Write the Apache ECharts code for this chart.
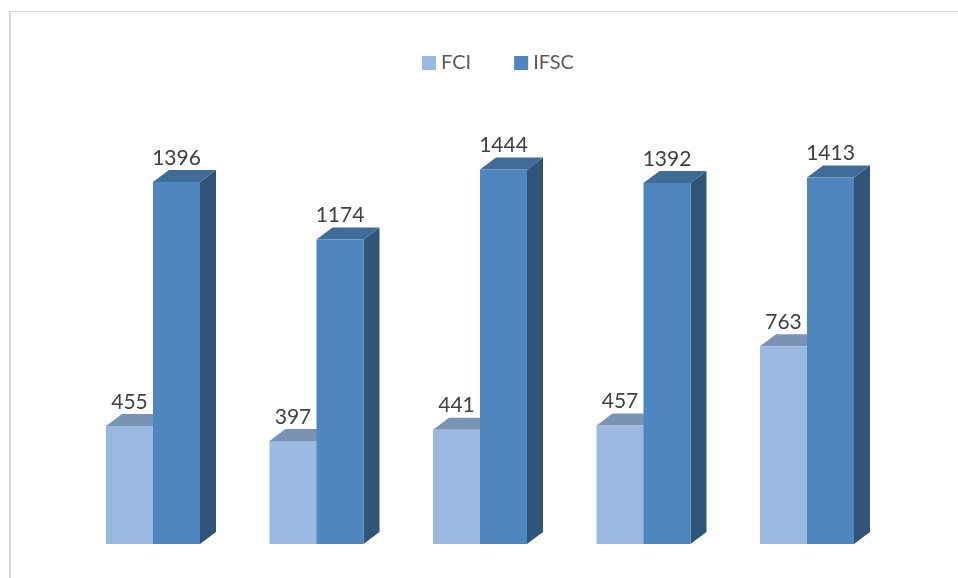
<!DOCTYPE html>
<html>
<head>
<meta charset="utf-8">
<style>
    html, body { margin: 0; padding: 0; background: #fff; }
    #chart { width: 958px; height: 578px; }
</style>
<script src="https://cdn.jsdelivr.net/npm/echarts@6/dist/echarts.min.js"></script>
</head>
<body>
<div id="chart"></div>
<script>
// the source has no category labels, so these are just positions
const categories = ["1", "2", "3", "4", "5"];
const fciValues = [455, 397, 441, 457, 763];
const ifscValues = [1396, 1174, 1444, 1392, 1413];

const FONT = "Lato, 'Open Sans', sans-serif";
const BAR_W = 47;
const DEPTH_X = 16;
const DEPTH_Y = 12;

// 3D looking column: front face, top face, right side face + value label
const columnRenderer = (offset, colors) => (params, api) => {
    const val = api.value(1);
    const top = api.coord([api.value(0), val]);
    const base = api.coord([api.value(0), 0]);
    const x0 = top[0] + offset;
    const x1 = x0 + BAR_W;
    const y0 = top[1];
    const y1 = base[1];
    return {
        type: "group",
        children: [
            {
                type: "polygon",
                shape: { points: [[x1, y0], [x1 + DEPTH_X, y0 - DEPTH_Y], [x1 + DEPTH_X, y1 - DEPTH_Y], [x1, y1]] },
                style: { fill: colors.side }
            },
            {
                type: "polygon",
                shape: { points: [[x0, y0], [x0 + DEPTH_X, y0 - DEPTH_Y], [x1 + DEPTH_X, y0 - DEPTH_Y], [x1, y0]] },
                style: { fill: colors.top }
            },
            {
                type: "rect",
                shape: { x: x0, y: y0, width: BAR_W, height: y1 - y0 },
                style: { fill: colors.front }
            },
            {
                type: "text",
                style: {
                    text: String(val),
                    x: x0 + BAR_W / 2,
                    y: y0 - 24,
                    align: "center",
                    verticalAlign: "middle",
                    fill: "#404040",
                    font: "21px " + FONT
                }
            }
        ]
    };
};

const chart = echarts.init(document.getElementById("chart"));
chart.setOption({
    animation: false,
    backgroundColor: "#fff",
    legend: {
        left: 417,
        top: 48,
        itemWidth: 14,
        itemHeight: 14,
        itemGap: 43,
        icon: "rect",
        textStyle: { color: "#595959", fontFamily: FONT, fontSize: 20 },
        data: ["FCI", "IFSC"]
    },
    grid: { left: 71.25, width: 817.5, top: 155, height: 389 },
    xAxis: {
        type: "category",
        data: categories,
        axisLine: { show: false },
        axisTick: { show: false },
        axisLabel: { show: false }
    },
    yAxis: {
        type: "value",
        min: 0,
        max: 1500,
        axisLine: { show: false },
        axisTick: { show: false },
        axisLabel: { show: false },
        splitLine: { show: false }
    },
    // thin frame on the top and left edge
    graphic: [
        { type: "rect", shape: { x: 9, y: 11, width: 949, height: 1 }, style: { fill: "#d9d9d9" } },
        { type: "rect", shape: { x: 9, y: 11, width: 2, height: 567 }, style: { fill: "#d9d9d9" } }
    ],
    series: [
        {
            name: "FCI",
            type: "custom",
            clip: false,
            z: 2,
            itemStyle: { color: "#9ab8e0" },
            renderItem: columnRenderer(-BAR_W, { front: "#9ab8e0", top: "#7a93b4", side: "#7a93b4" }),
            data: fciValues.map((v, i) => [i, v])
        },
        {
            name: "IFSC",
            type: "custom",
            clip: false,
            z: 3,
            itemStyle: { color: "#4f86bd" },
            renderItem: columnRenderer(0, { front: "#4f86bd", top: "#3f6b97", side: "#2f5678" }),
            data: ifscValues.map((v, i) => [i, v])
        }
    ]
});
</script>
</body>
</html>
